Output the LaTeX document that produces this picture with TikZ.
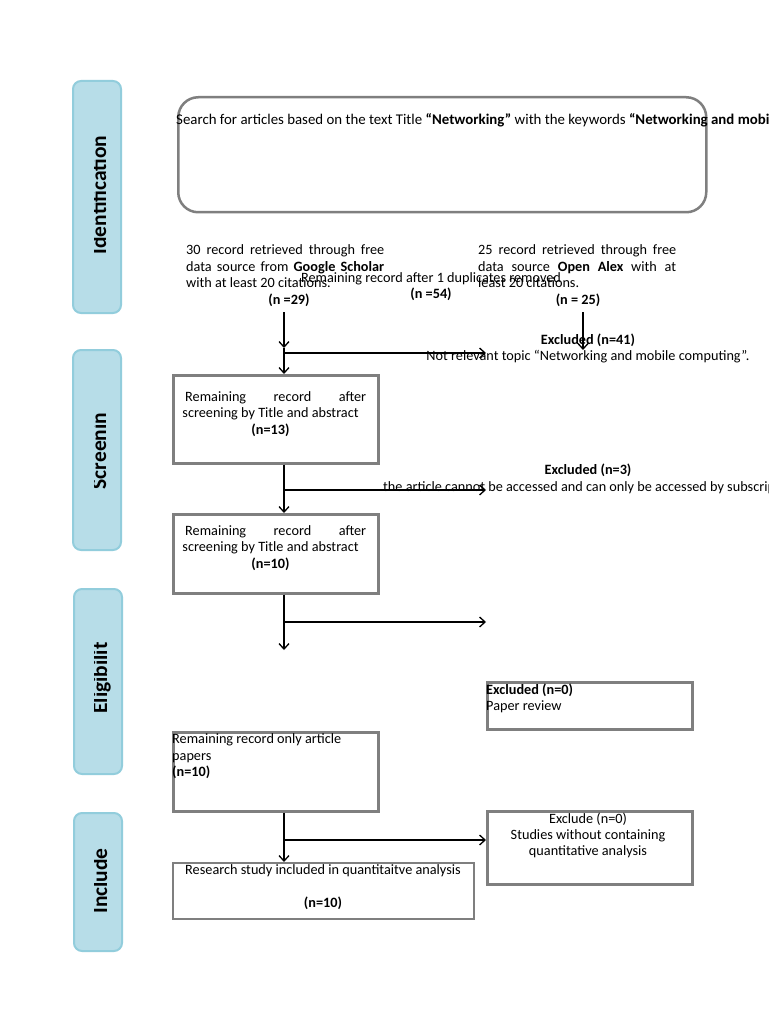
\documentclass[tikz,border=0pt]{standalone}
\usepackage{fontspec}
\setmainfont{Carlito}
\usetikzlibrary{arrows.meta,calc}
\definecolor{boxgray}{HTML}{7F7F7F}
\definecolor{sidefill}{HTML}{B7DDE8}
\definecolor{sidedraw}{HTML}{92CDDC}
\newcommand{\jl}[2]{\makebox[#1][s]{#2}}
\begin{document}
\begin{tikzpicture}[x=1pt,y=-1pt,
  txt/.style={inner sep=0pt,font=\fontsize{14.25}{16.5}\selectfont},
  sidebox/.style={draw=sidedraw,fill=sidefill,line width=2pt,rounded corners=8pt,anchor=north west,minimum width=48pt},
  sidelab/.style={inner sep=0pt,rotate=90,anchor=base,font=\fontsize{21.5}{21.5}\selectfont\bfseries},
  graybox/.style={draw=boxgray,line width=2.5pt,anchor=north west,inner sep=0pt},
  arr/.style={draw=black,line width=1.3pt,-{Straight Barb[length=5.5pt,width=10pt,line width=1.3pt]}}]
\useasboundingbox (0,0) rectangle (768,1024);
\clip (0,0) rectangle (768,1024);
\fill[white] (0,0) rectangle (768,1024);

% side boxes
\node[sidebox,minimum height=232pt] (sideI) at (72,80) {};
\node[sidebox,minimum height=200pt] (sideS) at (72,349) {};
\node[sidebox,minimum height=185pt] (sideE) at (73,588) {};
\node[sidebox,minimum height=138pt] (sideC) at (73,812) {};
\begin{scope}
\clip (94.5,70) rectangle (125,960);
\node[sidelab] (labI) at (106,195) {Identification};
\node[sidelab] (labS) at (106,451) {Screenin};
\node[sidelab] (labE) at (107,678) {Eligibilit};
\node[sidelab] (labC) at (107,881) {Include};
\end{scope}

% top search box
\node[graybox,rounded corners=20pt,minimum width=528pt,minimum height=115pt] (search) at (177,96) {};
\node[txt,anchor=base west,font=\fontsize{14.85}{16.5}\selectfont] (searchtxt) at (176,124.5) {Search for articles based on the text Title \textbf{“Networking”} with the keywords \textbf{“Networking and mobile computing”}};

% sources
\node[txt,anchor=base west] (l1) at (186,254.5) {\jl{198pt}{30 record retrieved through free}};
\node[txt,anchor=base west] (l2) at (186,271.5) {\jl{198pt}{data source from \textbf{Google Scholar}}};
\node[txt,anchor=base west] (l3) at (186,287.5) {with at least 20 citations.};
\node[txt,anchor=base] (l4) at (289,304.5) {\textbf{(n =29)}};
\node[txt,anchor=base west] (r1) at (478,254.5) {\jl{198pt}{25 record retrieved through free}};
\node[txt,anchor=base west] (r2) at (478,271.5) {\jl{198pt}{data source \textbf{Open Alex} with at}};
\node[txt,anchor=base west] (r3) at (478,287.5) {least 20 citations.};
\node[txt,anchor=base] (r4) at (578,304.5) {\textbf{(n = 25)}};
\node[txt,anchor=base] (m1) at (431,282.5) {Remaining record after 1 duplicates removed};
\node[txt,anchor=base] (m2) at (431,298.5) {\textbf{(n =54)}};

% exclusion texts
\node[txt,anchor=base] (ex1a) at (588,344.5) {\textbf{Excluded (n=41)}};
\node[txt,anchor=base] (ex1b) at (588,360.5) {Not relevant topic “Networking and mobile computing”.};
\node[txt,anchor=base] (ex2a) at (588,474.5) {\textbf{Excluded (n=3)}};
\node[txt,anchor=base west] (ex2b) at (383,491.5) {the article cannot be accessed and can only be accessed by subscription.};

% box 1
\node[graybox,minimum width=205pt,minimum height=88pt] (box1) at (172,374) {};
\node[txt,anchor=base west] (b1a) at (185,401.5) {\jl{181pt}{Remaining record after}};
\node[txt,anchor=base] (b1b) at (270.5,417.5) {screening by Title and abstract};
\node[txt,anchor=base] (b1c) at (270.5,434.5) {\textbf{(n=13)}};

% box 2
\node[graybox,minimum width=205pt,minimum height=79pt] (box2) at (172,513) {};
\node[txt,anchor=base west] (b2a) at (185,535.5) {\jl{181pt}{Remaining record after}};
\node[txt,anchor=base] (b2b) at (270.5,551.5) {screening by Title and abstract};
\node[txt,anchor=base] (b2c) at (270.5,568.5) {\textbf{(n=10)}};

% excluded n=0 paper review
\node[graybox,minimum width=205pt,minimum height=47pt] (boxP) at (486,681) {};
\node[txt,anchor=base west] (bPa) at (486,694.5) {\textbf{Excluded (n=0)}};
\node[txt,anchor=base west] (bPb) at (486,710.5) {Paper review};

% remaining only article papers
\node[graybox,minimum width=205pt,minimum height=79pt] (boxR) at (172,731) {};
\node[txt,anchor=base west] (bRa) at (172,743.5) {Remaining record only article};
\node[txt,anchor=base west] (bRb) at (172,760.5) {papers};
\node[txt,anchor=base west] (bRc) at (172,776.5) {\textbf{(n=10)}};

% exclude quantitative
\node[graybox,minimum width=205pt,minimum height=73pt] (boxX) at (486,810) {};
\node[txt,anchor=base] (bXa) at (588,823.5) {Exclude (n=0)};
\node[txt,anchor=base] (bXb) at (588,839.5) {Studies without containing};
\node[txt,anchor=base] (bXc) at (588,855.5) {quantitative analysis};

% research study included
\node[draw=boxgray,line width=1.6pt,anchor=north west,inner sep=0pt,minimum width=301pt,minimum height=56pt] (boxQ) at (172,862) {};
\node[txt,anchor=base] (bQa) at (323,874.5) {Research study included in quantitaitve analysis};
\node[txt,anchor=base] (bQb) at (323,907.5) {\textbf{(n=10)}};

% connectors
\coordinate (spine) at (284,0);
\coordinate (ls) at (284,312);
\coordinate (lm) at (284,348);
\draw[arr] (ls) -- (lm);
\draw[arr] (lm) -- (box1.north -| spine);
\coordinate (h1) at (284,353);
\coordinate (h1e) at (486,353);
\draw[arr] (h1) -- (h1e);
\coordinate (rs) at (583,312);
\coordinate (re) at (583,350);
\draw[arr] (rs) -- (re);

\draw[arr] (box1.south -| spine) -- (box2.north -| spine);
\coordinate (h2) at (284,490);
\coordinate (h2e) at (486,490);
\draw[arr] (h2) -- (h2e);

\coordinate (v3e) at (284,650);
\draw[arr] (box2.south -| spine) -- (v3e);
\coordinate (h3) at (284,622);
\coordinate (h3e) at (486,622);
\draw[arr] (h3) -- (h3e);

\draw[arr] (boxR.south -| spine) -- (boxQ.north -| spine);
\coordinate (h4) at (284,840);
\draw[arr] (h4) -- (h4 -| boxX.west);
\end{tikzpicture}
\end{document}
